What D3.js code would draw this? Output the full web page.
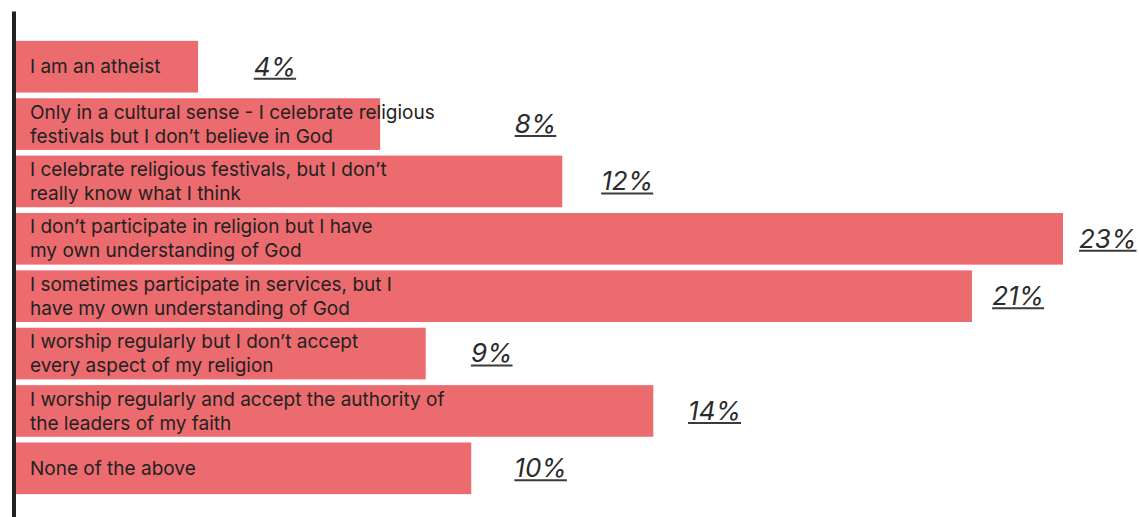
<!DOCTYPE html>
<html>
<head>
<meta charset="utf-8">
<script src="https://cdn.jsdelivr.net/npm/d3@7"></script>
<style>
  html, body { margin: 0; padding: 0; background: #fff; }
  svg { display: block; }
</style>
</head>
<body>
<svg id="chart" width="1139" height="517"></svg>
<script>
// Survey answers, one bar per answer (line breaks mark the wrapped text)
const categories = [
  "I am an atheist",
  "Only in a cultural sense - I celebrate religious\nfestivals but I don\u2019t believe in God",
  "I celebrate religious festivals, but I don\u2019t\nreally know what I think",
  "I don\u2019t participate in religion but I have\nmy own understanding of God",
  "I sometimes participate in services, but I\nhave my own understanding of God",
  "I worship regularly but I don\u2019t accept\nevery aspect of my religion",
  "I worship regularly and accept the authority of\nthe leaders of my faith",
  "None of the above"
];
const shares = [4, 8, 12, 23, 21, 9, 14, 10];
const valueLabels = ["4%", "8%", "12%", "23%", "21%", "9%", "14%", "10%"];

const svg = d3.select("#chart");
const barColor = "#ec6b6f";
const textColor = "#222222";
const font = "Inter, 'Open Sans', sans-serif";

const rows = categories.map((c, i) => ({ cat: c, value: shares[i], label: valueLabels[i] }));

const y = d3.scaleBand()
  .domain(d3.range(rows.length))
  .range([38, 497])
  .paddingInner(0.1)
  .paddingOuter(0.05);

const x = d3.scaleLinear().domain([0, 23]).range([16, 1063]);
// value labels sit on their own track to the right of the bars
const xLabel = d3.scaleLinear().domain([0, 23]).range([80, 1079]);

const bars = svg.append("g");
bars.selectAll("rect")
  .data(rows)
  .join("rect")
  .attr("x", x(0))
  .attr("y", (d, i) => y(i))
  .attr("width", d => x(d.value) - x(0))
  .attr("height", y.bandwidth())
  .attr("fill", barColor);

// category text inside the bars
const lineH = 24;
const textEnds = [];
bars.selectAll("text.cat")
  .data(rows)
  .join("text")
  .attr("class", "cat")
  .attr("font-family", font)
  .attr("font-size", 19)
  .attr("fill", textColor)
  .each(function (d, i) {
    const lines = d.cat.split("\n");
    const cy = y(i) + y.bandwidth() / 2;
    const first = cy - (lines.length - 1) * lineH / 2;
    const spans = d3.select(this).selectAll("tspan")
      .data(lines)
      .join("tspan")
      .attr("x", 30)
      .attr("y", (l, k) => first + k * lineH)
      .attr("dy", "0.35em")
      .text(l => l);
    textEnds[i] = 30 + d3.max(spans.nodes(), n => n.getComputedTextLength());
  });

// underlined italic percentages, kept clear of any text running past its bar
const vals = svg.append("g");
vals.selectAll("g")
  .data(rows)
  .join("g")
  .each(function (d, i) {
    const g = d3.select(this);
    const cy = y(i) + y.bandwidth() / 2;
    const overflow = textEnds[i] > x(d.value);
    const lx = overflow ? Math.max(xLabel(d.value), textEnds[i] + 80) : xLabel(d.value);
    const t = g.append("text")
      .attr("x", lx)
      .attr("y", cy)
      .attr("dy", "0.34em")
      .attr("font-family", font)
      .attr("font-style", "italic")
      .attr("font-size", 26)
      .attr("fill", "#2b2b2b")
      .text(d.label);
    const w = t.node().getComputedTextLength();
    g.append("line")
      .attr("x1", lx)
      .attr("x2", lx + w)
      .attr("y1", cy + 12)
      .attr("y2", cy + 12)
      .attr("stroke", "#3a3a3a")
      .attr("stroke-width", 2);
  });

// vertical baseline axis
svg.append("g")
  .attr("transform", "translate(13.5,0)")
  .call(d3.axisLeft(d3.scaleLinear().range([11, 517])).ticks(0).tickSizeOuter(0))
  .call(g => g.select(".domain").attr("stroke", "#222").attr("stroke-width", 4));
</script>
</body>
</html>
